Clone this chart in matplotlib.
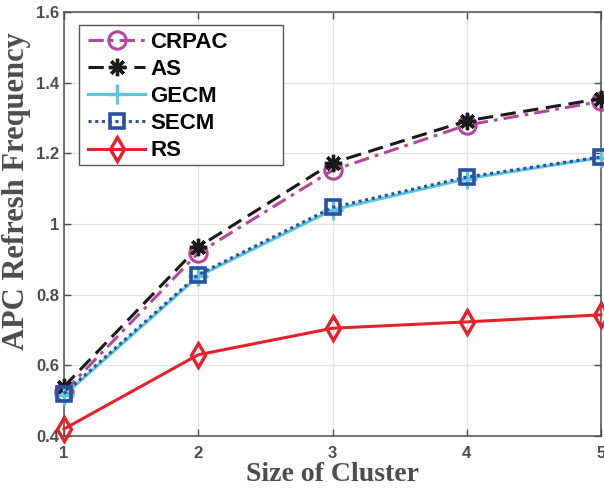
import matplotlib
matplotlib.use("Agg")
import matplotlib.pyplot as plt
from matplotlib.patches import Rectangle

x = [1, 2, 3, 4, 5]
crpac = [0.525, 0.918, 1.152, 1.280, 1.347]
as_ = [0.540, 0.935, 1.173, 1.292, 1.355]
gecm = [0.515, 0.852, 1.040, 1.128, 1.188]
secm = [0.520, 0.857, 1.047, 1.133, 1.190]
rs = [0.420, 0.630, 0.705, 0.723, 0.743]

xticks = [1, 2, 3, 4, 5]
yticks = [0.4, 0.6, 0.8, 1.0, 1.2, 1.4, 1.6]
ytick_labels = ["0.4", "0.6", "0.8", "1", "1.2", "1.4", "1.6"]

fig = plt.figure(figsize=(6.04, 4.93), dpi=100)
ax = fig.add_axes([0.106, 0.1156, 0.889, 0.860])

lw = 2.2
ax.plot(x, crpac, color="#b4479e", linestyle=(0, (5, 2, 1.2, 2)), linewidth=lw,
        marker="o", markersize=12.5, markerfacecolor="none", markeredgewidth=2.2,
        label="CRPAC", clip_on=False, zorder=3)
ax.plot(x, as_, color="#1a1a1a", linestyle=(0, (5, 2.5)), linewidth=lw,
        marker=(8, 2, 0), markersize=12.5, markeredgewidth=2.4,
        label="AS", clip_on=False, zorder=3)
ax.plot(x, gecm, color="#5bc7dc", linestyle="-", linewidth=lw,
        marker="+", markersize=14, markeredgewidth=2.4,
        label="GECM", clip_on=False, zorder=3)
ax.plot(x, secm, color="#2a4fa5", linestyle=(0, (1, 1.2)), linewidth=lw,
        marker="s", markersize=10, markerfacecolor="none", markeredgewidth=2.6,
        label="SECM", clip_on=False, zorder=3)
ax.plot(x, rs, color="#e8202a", linestyle="-", linewidth=lw,
        marker="d", markersize=12, markerfacecolor="none", markeredgewidth=2.4,
        label="RS", clip_on=False, zorder=3)

ax.set_xlim(1, 5)
ax.set_ylim(0.4, 1.6)
ax.set_xticks(xticks)
ax.set_yticks(yticks)
ax.set_yticklabels(ytick_labels)
ax.grid(True, color="#e3e3e3", linewidth=0.9)
ax.set_axisbelow(True)

for lab in ax.get_xticklabels() + ax.get_yticklabels():
    lab.set_fontfamily("Liberation Sans")
    lab.set_fontweight("bold")
    lab.set_fontsize(12)
    lab.set_color("#4d4d4d")
ax.tick_params(direction="in", length=5, width=1, colors="#4d4d4d",
               top=True, right=True)
ax.tick_params(axis="x", pad=7)
ax.tick_params(axis="y", pad=3.5)
for sp in ax.spines.values():
    sp.set_color("#4d4d4d")
    sp.set_linewidth(1.1)

ax.set_xlabel("Size of Cluster", family="Liberation Serif", weight="bold",
              size=20, color="#4d4d4d", labelpad=1)
ax.set_ylabel("APC Refresh Frequency", family="Liberation Serif", weight="bold",
              size=22, color="#4d4d4d")
ax.yaxis.set_label_coords(-0.062, 0.578)

leg = ax.legend(loc="upper left", bbox_to_anchor=(0.0447, 0.954), frameon=False,
                prop=dict(family="Liberation Sans", weight="bold", size=16),
                handlelength=2.57, handletextpad=0.23, labelspacing=0.28,
                borderpad=0.0, borderaxespad=0.0)
box = Rectangle((0.028, 0.639), 0.380, 0.330, transform=ax.transAxes,
                facecolor="white", edgecolor="#555555", linewidth=1.0, zorder=4)
ax.add_patch(box)
leg.set_zorder(5)

fig.savefig("out.png", dpi=100)
